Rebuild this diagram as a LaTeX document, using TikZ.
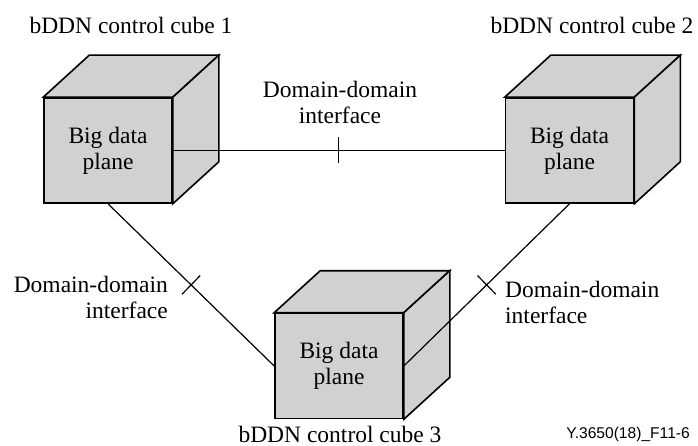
\documentclass[tikz,border=0pt]{standalone}
\usepackage{fontspec}
\setmainfont{Liberation Serif}
\newfontfamily\codefont{Liberation Sans}
\usetikzlibrary{decorations.markings}

\definecolor{cubegray}{RGB}{209,209,209}

\tikzset{
  txt/.style={font=\fontsize{23.5}{26}\selectfont, inner sep=0pt},
  frontface/.style={draw, line width=1.6pt, fill=cubegray, rectangle,
    minimum width=128pt, minimum height=105pt, inner sep=0pt,
    align=center, font=\fontsize{23.5}{26}\selectfont},
  cubeface/.style={draw, line width=1.6pt, fill=cubegray, line join=miter},
  link/.style={line width=1.2pt},
  tickmid/.style={postaction={decorate}, decoration={markings,
    mark=at position 0.5 with {\draw[line width=1.2pt] (0,-13pt) -- (0,13pt);}}},
}

% draws the top and side faces behind a front face node
\newcommand{\cubeback}[1]{%
  \draw[cubeface] (#1.north west) -- ++(46,-42) -- ([shift={(46,-42)}]#1.north east) -- (#1.north east) -- cycle;
  \draw[cubeface] (#1.north east) -- ++(46,-42) -- ([shift={(46,-42)}]#1.south east) -- (#1.south east) -- cycle;
}

\begin{document}
\begin{tikzpicture}[x=1pt, y=-1pt]
\useasboundingbox (0,0) rectangle (698,446);

% cubes
\node[frontface] (c1) at (108,150.5) {Big data\\plane};
\cubeback{c1}
\node[frontface] (c2) at (569.5,150.5) {Big data\\plane};
\cubeback{c2}
\node[frontface] (c3) at (339,366) {Big data\\plane};
\cubeback{c3}

% interfaces between domains
\draw[link, tickmid] (c1.east) -- (c2.west);
\draw[link, tickmid] (c1.south) -- (c3.west);
\draw[link, tickmid] (c2.south) -- (c3.east);

% captions
\node[txt, anchor=base] (t1) at (131,34) {bDDN control cube 1};
\node[txt, anchor=base] (t2) at (592,34) {bDDN control cube 2};
\node[txt, anchor=base] (t3) at (340,442) {bDDN control cube 3};

\node[txt, anchor=north, align=center] (i12) at (340,81) {Domain-domain\\interface};
\node[txt, anchor=north east, align=right] (i13) at (168,276) {Domain-domain\\interface};
\node[txt, anchor=north west, align=left] (i23) at (505,281) {Domain-domain\\interface};

\node[inner sep=0pt, anchor=base east, font=\codefont\fontsize{15.6}{18}\selectfont] (code) at (690,438) {Y.3650(18)\_F11-6};
\end{tikzpicture}
\end{document}
